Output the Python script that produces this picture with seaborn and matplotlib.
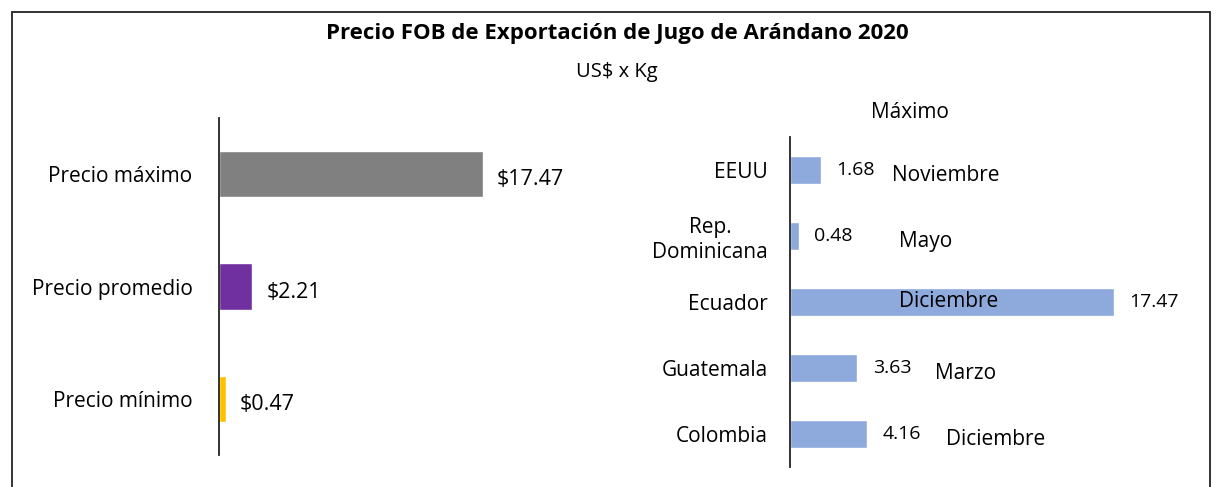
import matplotlib
matplotlib.use("Agg")
import matplotlib.pyplot as plt
import seaborn as sns
from matplotlib.patches import Rectangle

# data
resumen_labels = ["Precio máximo", "Precio promedio", "Precio mínimo"]
resumen_values = [17.47, 2.21, 0.47]
resumen_colors = ["#808080", "#7030A0", "#FFC000"]

paises = ["EEUU", "Rep.\nDominicana", "Ecuador", "Guatemala", "Colombia"]
maximos = [1.68, 0.48, 17.47, 3.63, 4.16]
meses = ["Noviembre", "Mayo", "Diciembre", "Marzo", "Diciembre"]

sns.set_style("white")
plt.rcParams["font.family"] = ["Open Sans", "DejaVu Sans"]
plt.rcParams["text.color"] = "black"
plt.rcParams["ytick.color"] = "black"

fig = plt.figure(figsize=(12.16, 4.87), dpi=100)

# outer frame
fig.patches.append(Rectangle((0.0099, -0.02), 0.9852, 0.995, transform=fig.transFigure,
                             fill=False, edgecolor="#222222", linewidth=1.3))

fig.text(0.508, 0.932, "Precio FOB de Exportación de Jugo de Arándano 2020",
         ha="center", va="center", fontsize=16, fontweight="bold")
fig.text(0.507, 0.852, "US$ x Kg", ha="center", va="center", fontsize=14.5)
fig.text(0.748, 0.77, "Máximo", ha="center", va="center", fontsize=15)

# left panel
ax1 = fig.add_axes([0.1801, 0.0657, 0.3109, 0.692])
sns.barplot(x=resumen_values, y=resumen_labels, hue=resumen_labels, palette=resumen_colors,
            orient="h", width=0.41, legend=False, ax=ax1, saturation=1)
ax1.set_xlim(0, 25)
ax1.set_ylim(2.5, -0.5)
for i, v in enumerate(resumen_values):
    ax1.annotate(f"${v:.2f}", (v, i), xytext=(10, -4), textcoords="offset points",
                 ha="left", va="center", fontsize=15.5)

# right panel
ax2 = fig.add_axes([0.6497, 0.0411, 0.305, 0.6776])
sns.barplot(x=maximos, y=paises, color="#8EA9DB", orient="h", width=0.41, ax=ax2, saturation=1)
ax2.set_xlim(0, 20)
ax2.set_ylim(4.5, -0.5)
month_dx = [51, 72, None, 56, 57]
for i, (v, m) in enumerate(zip(maximos, meses)):
    ax2.annotate(f"{v:.2f}", (v, i), xytext=(11, 0), textcoords="offset points",
                 ha="left", va="center", fontsize=14)
    if month_dx[i] is None:
        ax2.text(v / 2 - 0.2, i, m, ha="center", va="center", fontsize=15)
    else:
        ax2.annotate(m, (v, i), xytext=(month_dx[i], -4), textcoords="offset points",
                     ha="left", va="center", fontsize=15)

for ax, pad in [(ax1, 19), (ax2, 16)]:
    ax.set_xlabel("")
    ax.set_ylabel("")
    ax.set_xticks([])
    ax.tick_params(axis="y", length=0, pad=pad, labelsize=15)
    for s in ["top", "right", "bottom"]:
        ax.spines[s].set_visible(False)
    ax.spines["left"].set_color("#222222")
    ax.spines["left"].set_linewidth(1.3)
    for lab in ax.get_yticklabels():
        lab.set_multialignment("center")

fig.savefig("out.png", dpi=100)
